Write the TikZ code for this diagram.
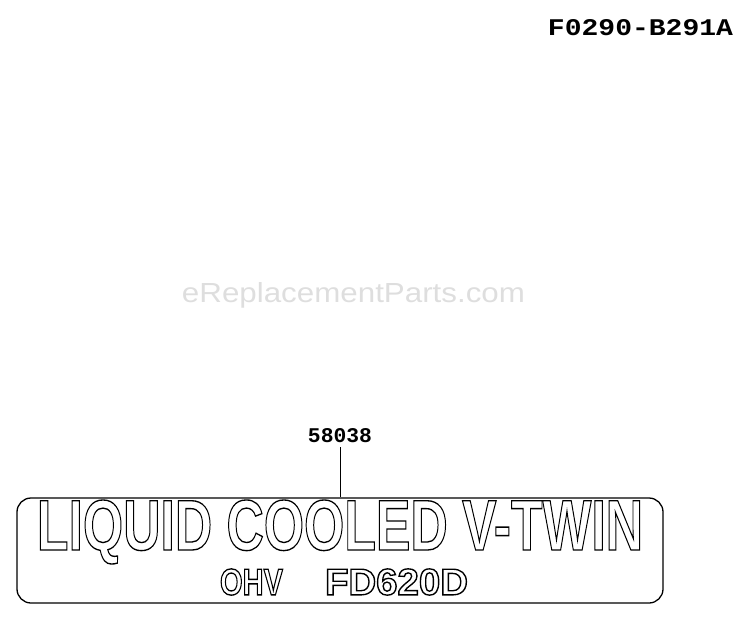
\documentclass[tikz,border=0pt]{standalone}
\usepackage{fontspec}
\setmainfont{Liberation Sans}
\newfontfamily\partfont{Liberation Mono}
\newcommand{\hollow}[1]{\special{pdf:literal direct 1 Tr 1.3 w}#1\special{pdf:literal direct 0 Tr}}

\begin{document}
\begin{tikzpicture}[x=1pt,y=-1pt]
\tikzstyle{partno}=[inner sep=0pt,font=\partfont\bfseries]
\tikzstyle{decal}=[draw,line width=1.3pt,rounded corners=14pt,minimum width=646pt,minimum height=105pt,inner sep=0pt]
\tikzstyle{outlined}=[inner sep=0pt]
\tikzstyle{watermark}=[inner sep=0pt,text=black!13,font=\fontsize{26}{27}\selectfont]
\useasboundingbox (0,0) rectangle (750,619);
\node[partno] (F) at (640.5,28) {\resizebox{185pt}{16pt}{F0290-B291A}};
\node[watermark] (W) at (353.5,295) {\resizebox{343pt}{20pt}{eReplacementParts.com}};
\node[partno] (P) at (340,436) {\resizebox{64pt}{14pt}{58038}};
\node[decal] (D) at (340,550.5) {};
\node[outlined,font=\fontsize{69}{70}\selectfont\bfseries] (L1) at (340,532)
  {\resizebox{606pt}{50pt}{\hollow{LIQUID COOLED V-TWIN}}};
\node[outlined,font=\fontsize{36}{37}\selectfont\bfseries] (L2) at (251.5,582)
  {\resizebox{63pt}{26pt}{\hollow{OHV}}};
\node[outlined,font=\fontsize{36}{37}\selectfont\bfseries] (L3) at (396.5,582)
  {\resizebox{143pt}{26pt}{\hollow{FD620D}}};
\draw[line width=0.8pt,shorten <=4pt] (P.south) -- (P.south |- D.north);
\end{tikzpicture}
\end{document}
